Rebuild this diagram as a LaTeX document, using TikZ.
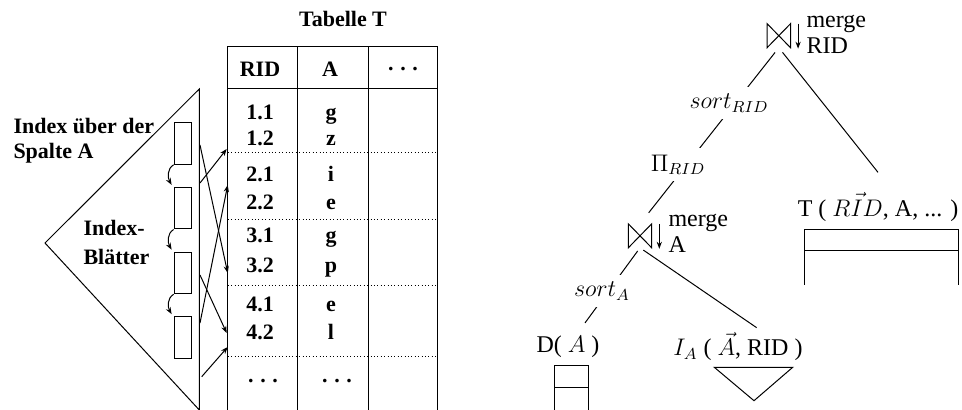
\documentclass[tikz,border=0pt]{standalone}
\usepackage{fontspec}
\setmainfont{Liberation Serif}
\usepackage{amsmath}
\usetikzlibrary{arrows.meta,calc,positioning}

\newcommand{\tdots}{.\hspace{0.3em}.\hspace{0.3em}.}

\tikzset{
  boldtxt/.style={font=\fontsize{11}{12.5}\selectfont\bfseries, inner sep=0pt},
  optxt/.style={font=\fontsize{12}{13}\selectfont, inner sep=0pt},
  leaf/.style={draw, minimum width=8.85pt, minimum height=20.8pt, inner sep=0pt},
  joinop/.style={minimum width=11.2pt, minimum height=11.5pt, inner sep=0pt},
  gap/.style={optxt, fill=white, inner sep=3.3pt},
  ptr/.style={-{Stealth[length=3.5pt,width=2.6pt]}},
  rowsep/.style={dash pattern=on 0.5pt off 1.2pt},
}

\begin{document}
\begin{tikzpicture}[x=0.5pt,y=-0.5pt,line width=0.5pt]
\useasboundingbox (0,0) rectangle (962,410);

% Tabelle T
\node[boldtxt] (title) at (343,19) {Tabelle T};
\draw (227.7,410) |- (437.3,46.7) -- (437.3,410);
\draw (227.7,89) -- (437.3,89);
\foreach \x in {297.7,368.3}
  \draw (\x,46.7) -- (\x,410);
\foreach \y in {152.3,220,286,356.7}
  \draw[rowsep] (227.7,\y) -- (437.3,\y);
\node[boldtxt] (hrid) at (260,69) {RID};
\node[boldtxt] (hval) at (330,69) {A};
\node[boldtxt] (hmore) at (403,69) {\tdots};
\foreach \r/\v/\y [count=\k] in {1.1/g/120, 1.2/z/146, 2.1/i/181.7, 2.2/e/210,
    3.1/g/243, 3.2/p/273, 4.1/e/311.7, 4.2/l/339.3} {
  \node[boldtxt, anchor=base] (rid\k) at (260,\y) {\r};
  \node[boldtxt, anchor=base] (val\k) at (331,\y) {\v};
}
\node[boldtxt, anchor=base] (riddots) at (263,383) {\tdots};
\node[boldtxt, anchor=base] (valdots) at (337,383) {\tdots};

% Index (B-Baum) mit Blattseiten
\draw (199.3,89) -- (45,243) -- (199.3,410) -- cycle;
\node[boldtxt, anchor=west, align=left] (idxname) at (13,140.5) {Index über der\\Spalte A};
\node[boldtxt, anchor=west, align=left] (idxleaves) at (83,242.5) {Index-\\[2pt]Blätter};
\foreach \i/\y in {1/143.5,2/208.2,3/273,4/337.5}
  \node[leaf] (leaf\i) at (183,\y) {};
\foreach \i/\j in {1/2,2/3,3/4}
  \draw[ptr] (leaf\i.south west) to[out=210,in=120] ([xshift=-1pt,yshift=1pt]leaf\j.north west);

% Verweise auf die Tupel
\foreach \a/\b/\c/\d [count=\k] in {200/145/227.7/273, 200/183/226.7/149,
    200/323/227.7/185, 200/275/226.7/333, 201.7/376.7/227.7/347} {
  \coordinate (src\k) at (\a,\b);
  \coordinate (dst\k) at (\c,\d);
  \draw[ptr] (src\k) -- (dst\k);
}

% Anfrageplan
\node[joinop] (join1) at (778.8,35.7) {};
\draw (join1.north west) -- (join1.south east) -- (join1.north east) -- (join1.south west) -- cycle;
\draw[ptr] ([xshift=3.8pt]join1.north east) -- ([xshift=3.8pt,yshift=-0.5pt]join1.south east);
\node[optxt, anchor=west, align=left] (merge1) at (806,34) {merge\\RID};

\node[joinop] (join2) at (640,235.8) {};
\draw (join2.north west) -- (join2.south east) -- (join2.north east) -- (join2.south west) -- cycle;
\draw[ptr] ([xshift=3.8pt]join2.north east) -- ([xshift=3.8pt,yshift=-0.5pt]join2.south east);
\node[optxt, anchor=west, align=left] (merge2) at (668,233.5) {merge\\A};

\node[optxt] (tname) at (878,207) {T ( $R\vec{I}D$, A, ... )};
\draw (804,285) |- (958.3,229.3) -- (958.3,285);
\draw (804,250.7) -- (958.3,250.7);

\node[optxt] (dname) at (568,346.7) {D( $A$ )};
\draw (554.3,410) |- (588.3,365.7) -- (588.3,410);
\draw (554.3,387.3) -- (588.3,387.3);

\node[optxt] (iname) at (738,346.7) {$I_A$ ( $\vec{A}$, RID )};
\draw (714.3,367.3) -- (792.7,367.3) -- (754,400.7) -- cycle;

% Kanten
\draw[shorten <=3pt] (join1.south) -- ([yshift=10pt]tname.north);
\draw[shorten <=3pt, shorten >=7pt] (join1.south)
  -- node[gap, pos=0.315, xshift=-3pt] (sortrid) {$sort_{RID}$}
     node[gap, pos=0.665, xshift=-4.2pt] (projrid) {$\Pi_{RID}$}
  (join2.north);
\draw[shorten <=2pt] (join2.south)
  -- node[gap, pos=0.575, xshift=-3.2pt] (sorta) {$sort_A$}
  ([xshift=8.5pt,yshift=6.2pt]dname.north);
\draw[shorten <=2pt] (join2.south) -- ([xshift=9.3pt,yshift=2.2pt]iname.north);
\end{tikzpicture}
\end{document}
